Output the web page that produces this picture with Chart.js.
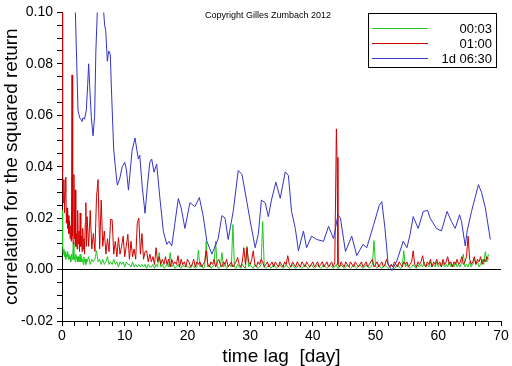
<!DOCTYPE html>
<html>
<head>
<meta charset="utf-8">
<script src="https://cdn.jsdelivr.net/npm/chart.js@4"></script>
<style>
  html, body { margin: 0; padding: 0; background: #fff; }
  #chart { display: block; }
</style>
</head>
<body>
<canvas id="chart" width="512" height="366"></canvas>
<script>
// series names as in the legend
const seriesNames = ['00:03', '01:00', '1d 06:30'];

// lag grid (days) shared by the 00:03 and 01:00 series
const lags = [
  0, 0.1, 0.2, 0.3, 0.4, 0.5, 0.6, 0.7, 0.8, 0.9,
  1, 1.1, 1.2, 1.3, 1.4, 1.5, 1.6, 1.7, 1.8, 1.9,
  2, 2.1, 2.2, 2.3, 2.4, 2.5, 2.6, 2.7, 2.8, 2.9,
  3, 3.1, 3.2, 3.3, 3.4, 3.5, 3.6, 3.7, 3.8, 3.9,
  4,
  4.25, 4.5, 4.75, 5, 5.25, 5.5, 5.75, 6, 6.25, 6.5,
  6.75, 7, 7.25, 7.5, 7.75, 8, 8.25, 8.5, 8.75, 9,
  9.25, 9.5, 9.75, 10, 10.25, 10.5, 10.75, 11, 11.25, 11.5,
  11.75, 12, 12.25, 12.5, 12.75, 13, 13.25, 13.5, 13.75, 14,
  14.25, 14.5, 14.75, 15, 15.25, 15.5, 15.75, 16, 16.25, 16.5,
  16.75, 17, 17.25, 17.5, 17.75, 18, 18.25, 18.5, 18.75, 19,
  19.25, 19.5, 19.75, 20,
  20.25, 20.5, 20.75, 21, 21.25, 21.5, 21.75, 22, 22.25, 22.5,
  22.75, 23, 23.25, 23.5, 23.75, 24, 24.25, 24.5, 24.75, 25,
  25.25, 25.5, 25.75, 26, 26.25, 26.5, 26.75, 27, 27.25, 27.5,
  27.75, 28, 28.25, 28.5, 28.75, 29, 29.25, 29.5, 29.75, 30,
  30.25, 30.5, 30.75, 31, 31.25, 31.5, 31.75, 32, 32.25, 32.5,
  32.75, 33, 33.25, 33.5, 33.75, 34, 34.25, 34.5, 34.75, 35,
  35.25, 35.5, 35.75, 36, 36.25, 36.5, 36.75, 37, 37.25, 37.5,
  37.75, 38, 38.25, 38.5, 38.75, 39, 39.25, 39.5, 39.75, 40,
  40.25, 40.5, 40.75, 41, 41.25, 41.5, 41.75, 42, 42.25, 42.5,
  42.75, 43, 43.25, 43.5, 43.75, 43.85, 44, 44.25, 44.5, 44.75,
  45, 45.25, 45.5, 45.75, 46, 46.25, 46.5, 46.75, 47, 47.25,
  47.5, 47.75, 48, 48.25, 48.5, 48.75, 49, 49.25, 49.5, 49.75,
  50, 50.25, 50.5, 50.75, 51, 51.25, 51.5, 51.75, 52, 52.25,
  52.5, 52.75, 53, 53.25, 53.5, 53.75, 54, 54.25, 54.5, 54.75,
  55, 55.25, 55.5, 55.75, 56, 56.25, 56.5, 56.75, 57, 57.25,
  57.5, 57.75, 58, 58.25, 58.5, 58.75, 59, 59.25, 59.5, 59.75,
  60, 60.25, 60.5, 60.75, 61, 61.25, 61.5, 61.75, 62, 62.25,
  62.5, 62.75, 63, 63.25, 63.5, 63.75, 64, 64.25, 64.5, 64.75,
  65, 65.25, 65.5, 65.75, 66, 66.25, 66.5, 66.75, 67, 67.25,
  67.5, 67.75, 68
];

// 00:03 series
const green0003 = [
  0.023, 0.009, 0.006, 0.008, 0.005, 0.007, 0.004, 0.006, 0.005, 0.007,
  0.004, 0.006, 0.004, 0.005, 0.003, 0.006, 0.004, 0.005, 0.0104, 0.004,
  0.005, 0.003, 0.006, 0.004, 0.005, 0.003, 0.005, 0.003, 0.004, 0.006,
  0.003, 0.005, 0.003, 0.004, 0.002, 0.005, 0.003, 0.004, 0.002, 0.004,
  0.003,
  0.005, 0.002, 0.004, 0.003, 0.004, 0.0073, 0.003, 0.004, 0.002, 0.004,
  0.002, 0.003, 0.005, 0.002, 0.003, 0.002, 0.004, 0.002, 0.003, 0.001,
  0.003, 0.002, 0.003, 0.001, 0.003, 0.002, 0.002, 0.001, 0.003, 0.001,
  0.002, 0.001, 0.002, 0.001, 0.002, 0.001, 0.002, 0.0005, 0.002, 0.001,
  0.001, 0.002, 0.0005, 0.002, 0.001, 0.0066, 0.001, 0.002, 0.0005, 0.001,
  0.002, 0.001, 0.0066, 0.001, 0.002, 0.0005, 0.001, 0.002, 0.001, 0.0005,
  0.002, 0.001, 0.0015, 0.001,
  0.001, 0.0005, 0.002, 0.001, 0.0005, 0.001, 0.0076, 0.001, 0.002, 0.0005,
  0.001, 0.011, 0.001, 0.002, 0.0005, 0.001, 0.002, 0.011, 0.001, 0.0005,
  0.001, 0.0066, 0.001, 0.002, 0.0005, 0.001, 0.002, 0.001, 0.0175, 0.001,
  0.0005, 0.002, 0.001, 0.0005, 0.002, 0.001, 0.0005, 0.009, 0.001, 0.002,
  0.001, 0.0005, 0.002, 0.001, 0.0005, 0.001, 0.002, 0.0187, 0.001, 0.0005,
  0.001, 0.002, 0.0005, 0.001, 0.002, 0.001, 0.0005, 0.001, 0.002, 0.001,
  0.0005, 0.001, 0.002, 0.001, 0.0005, 0.001, 0.002, 0.001, 0.0005, 0.001,
  0.002, 0.001, 0.0005, 0.001, 0.002, 0.001, 0.0005, 0.001, 0.002, 0.001,
  0.0005, 0.001, 0.002, 0.001, 0.0005, 0.001, 0.002, 0.001, 0.0005, 0.001,
  0.002, 0.001, 0.0005, 0.001, 0.002, 0.001, 0.0005, 0.001, 0.002, 0.001,
  0.0005, 0.001, 0.002, 0.001, 0.0005, 0.001, 0.002, 0.001, 0.0005, 0.001,
  0.002, 0.001, 0.0005, 0.001, 0.002, 0.001, 0.0005, 0.001, 0.002, 0.0113,
  0.001, 0.0005, 0.002, 0.001, 0.0005, 0.001, 0.002, 0.001, 0.0005, 0.001,
  0.002, 0.001, 0.0005, 0.001, 0.002, 0.001, 0.0005, 0.001, 0.0073, 0.001,
  0.002, 0.001, 0.0005, 0.001, 0.002, 0.001, 0.0005, 0.002, 0.001, 0.002,
  0.001, 0.003, 0.001, 0.002, 0.001, 0.003, 0.001, 0.002, 0.001, 0.003,
  0.001, 0.002, 0.001, 0.003, 0.001, 0.002, 0.001, 0.003, 0.001, 0.002,
  0.001, 0.003, 0.001, 0.002, 0.001, 0.003, 0.006, 0.001, 0.002, 0.001,
  0.003, 0.001, 0.002, 0.004, 0.002, 0.003, 0.001, 0.002, 0.004, 0.002,
  0.0069, 0.003, 0.006
];

// 01:00 series
const red0100 = [
  0.12, 0.038, 0.026, 0.035, 0.022, 0.03, 0.036, 0.018, 0.024, 0.016,
  0.021, 0.014, 0.019, 0.012, 0.017, 0.011, 0.0757, 0.013, 0.01, 0.037,
  0.012, 0.031, 0.009, 0.014, 0.008, 0.023, 0.01, 0.015, 0.007, 0.022,
  0.009, 0.013, 0.007, 0.016, 0.008, 0.012, 0.006, 0.018, 0.026, 0.009,
  0.0206,
  0.009, 0.023, 0.008, 0.014, 0.007, 0.028, 0.035, 0.008, 0.027, 0.009,
  0.015, 0.006, 0.012, 0.007, 0.0195, 0.0194, 0.006, 0.011, 0.005, 0.0124,
  0.006, 0.009, 0.013, 0.005, 0.009, 0.0137, 0.004, 0.011, 0.005, 0.008,
  0.004, 0.018, 0.02, 0.006, 0.014, 0.004, 0.007, 0.0073, 0.003, 0.006,
  0.003, 0.005, 0.002, 0.0085, 0.003, 0.005, 0.002, 0.004, 0.002, 0.005,
  0.002, 0.004, 0.001, 0.004, 0.002, 0.003, 0.002, 0.0054, 0.001, 0.004,
  0.002, 0.003, 0.001, 0.004,
  0.003, 0.001, 0.002, 0.004, 0.001, 0.003, 0.002, 0.003, 0.001, 0.002,
  0.003, 0.0073, 0.002, 0.001, 0.003, 0.002, 0.004, 0.001, 0.003, 0.004,
  0.002, 0.001, 0.003, 0.002, 0.004, 0.001, 0.002, 0.003, 0.001, 0.002,
  0.003, 0.0047, 0.002, 0.001, 0.003, 0.0085, 0.002, 0.0085, 0.003, 0.002,
  0.004, 0.0073, 0.002, 0.001, 0.003, 0.002, 0.004, 0.003, 0.001, 0.002,
  0.003, 0.001, 0.002, 0.003, 0.001, 0.003, 0.002, 0.001, 0.003, 0.002,
  0.001, 0.003, 0.002, 0.0054, 0.002, 0.001, 0.003, 0.002, 0.001, 0.003,
  0.002, 0.001, 0.003, 0.002, 0.001, 0.003, 0.002, 0.001, 0.002, 0.003,
  0.001, 0.002, 0.003, 0.001, 0.002, 0.003, 0.001, 0.002, 0.003, 0.001,
  0.002, 0.003, 0.001, 0.003, 0.0547, 0.0436, 0.002, 0.001, 0.003, 0.002,
  0.001, 0.003, 0.002, 0.001, 0.003, 0.002, 0.001, 0.003, 0.002, 0.001,
  0.002, 0.003, 0.001, 0.002, 0.003, 0.001, 0.002, 0.003, 0.004, 0.001,
  0.002, 0.003, 0.001, 0.002, 0.003, 0.001, 0.002, 0.004, 0.002, 0.001,
  0.002, 0.001, 0.003, 0.002, 0.001, 0.003, 0.002, 0.001, 0.003, 0.002,
  0.003, 0.001, 0.002, 0.003, 0.0073, 0.002, 0.001, 0.003, 0.002, 0.003,
  0.0054, 0.002, 0.001, 0.003, 0.002, 0.004, 0.001, 0.003, 0.002, 0.004,
  0.002, 0.003, 0.001, 0.004, 0.002, 0.003, 0.005, 0.002, 0.003, 0.001,
  0.003, 0.002, 0.004, 0.002, 0.003, 0.005, 0.002, 0.003, 0.005, 0.013,
  0.004, 0.002, 0.003, 0.005, 0.002, 0.004, 0.003, 0.005, 0.002, 0.004,
  0.003, 0.005, 0.004
];

// 1d 06:30 series, own lags
const blueLags = [
  2.1, 2.55, 2.82, 3.0, 3.19, 3.35, 3.6, 3.88, 4.1, 4.25,
  4.4, 4.68, 4.95, 5.2, 5.4, 5.63, 6.0, 6.4, 6.65, 6.8,
  6.97, 7.23, 7.45, 7.7, 7.87, 8.24, 8.5, 8.82, 9.2, 9.6,
  10.0, 10.26, 10.6, 11.16, 11.64, 12.17, 12.4, 12.8, 13.24, 13.6,
  14.0, 14.3, 14.67, 15.1, 15.6, 16.16, 16.7, 17.07, 17.5, 18.0,
  18.55, 19.0, 19.6, 20.4, 21.2, 21.9, 22.5, 23.1, 23.9, 24.9,
  25.5, 26.0, 26.5, 27.3, 28.1, 28.7, 29.5, 30.0, 30.8, 31.3,
  31.8, 32.4, 32.9, 33.4, 34.1, 34.8, 35.6, 36.1, 36.6, 37.2,
  37.7, 38.5, 39.0, 39.8, 40.6, 41.7, 42.5, 43.3, 44.0, 44.4,
  45.2, 46.2, 47.0, 48.0, 48.6, 49.7, 50.6, 51.0, 51.5, 52.0,
  52.6, 53.4, 54.4, 55.0, 55.5, 56.0, 56.8, 57.6, 58.3, 58.7,
  59.7, 60.5, 61.4, 62.1, 62.7, 63.4, 63.7, 64.3, 64.6, 65.3,
  66.4, 66.9, 67.5, 68.3
];
const blue1d = [
  0.103, 0.062, 0.059, 0.0585, 0.0576, 0.059, 0.0585, 0.062, 0.072, 0.08,
  0.072, 0.059, 0.052, 0.0596, 0.085, 0.1, 0.1015, 0.1005, 0.1, 0.095,
  0.093, 0.081, 0.085, 0.0837, 0.071, 0.0468, 0.04, 0.0328, 0.0353, 0.04,
  0.0417, 0.039, 0.0309, 0.046, 0.0512, 0.043, 0.0444, 0.032, 0.0219, 0.032,
  0.0417, 0.043, 0.0379, 0.041, 0.028, 0.0149, 0.0098, 0.011, 0.0092, 0.018,
  0.0276, 0.024, 0.016, 0.026, 0.0245, 0.028, 0.021, 0.011, 0.006, 0.012,
  0.021, 0.02, 0.0117, 0.0226, 0.0385, 0.037, 0.026, 0.019, 0.0085, 0.0137,
  0.027, 0.026, 0.0206, 0.027, 0.034, 0.0277, 0.038, 0.0366, 0.0226, 0.016,
  0.0073, 0.015, 0.0085, 0.013, 0.0117, 0.011, 0.0168, 0.012, 0.0213, 0.02,
  0.007, 0.013, 0.0054, 0.0098, 0.0085, 0.0175, 0.025, 0.0264, 0.016, 0.0022,
  -0.0004, 0.0034, 0.011, 0.0085, 0.0136, 0.0206, 0.016, 0.0226, 0.023, 0.02,
  0.016, 0.015, 0.0226, 0.0187, 0.016, 0.0213, 0.0187, 0.0092, 0.015, 0.0226,
  0.033, 0.03, 0.024, 0.0117
];

const greenCol = '#1ec81e';
const redCol = '#d00000';
const blueCol = '#3434c8';
const fontFam = '"Liberation Sans", Arial, sans-serif';

const toPoints = (xs, ys) => xs.map((x, i) => ({ x: x, y: ys[i] }));
const isMultiple = (v, step) => Math.abs(Math.round(v / step) * step - v) < 1e-9;

// copyright line and the boxed legend, drawn like the original
const overlay = {
  id: 'overlay',
  afterDraw(chart) {
    const c = chart.ctx;
    c.save();
    c.fillStyle = '#000';
    c.font = '9px ' + fontFam;
    c.textAlign = 'left';
    c.textBaseline = 'middle';
    c.fillText('Copyright Gilles Zumbach 2012', 205, 16);

    c.fillStyle = '#fff';
    c.fillRect(368.5, 13.5, 128, 54);
    c.strokeStyle = '#000';
    c.lineWidth = 1;
    c.strokeRect(368.5, 13.5, 128, 54);

    const items = chart.data.datasets.slice().reverse();
    c.font = '13px ' + fontFam;
    c.textAlign = 'right';
    items.forEach((ds, i) => {
      const y = 28.5 + i * 15;
      c.strokeStyle = ds.borderColor;
      c.beginPath();
      c.moveTo(372, y);
      c.lineTo(428, y);
      c.stroke();
      c.fillStyle = '#000';
      c.fillText(ds.label, 492, y + 1);
    });
    c.restore();
  }
};

const ctx = document.getElementById('chart').getContext('2d');
new Chart(ctx, {
  type: 'line',
  data: {
    datasets: [
      { label: seriesNames[2], data: toPoints(blueLags, blue1d), borderColor: blueCol },
      { label: seriesNames[1], data: toPoints(lags, red0100), borderColor: redCol },
      { label: seriesNames[0], data: toPoints(lags, green0003), borderColor: greenCol }
    ]
  },
  options: {
    responsive: false,
    animation: false,
    devicePixelRatio: 1,
    layout: { padding: { left: 0, right: 11, top: 7, bottom: 0 } },
    elements: {
      point: { radius: 0 },
      line: { borderWidth: 1, tension: 0, fill: false }
    },
    plugins: { legend: { display: false }, tooltip: { enabled: false } },
    scales: {
      x: {
        type: 'linear',
        min: 0,
        max: 70,
        afterFit: s => { s.height = 45; },
        border: { display: true, color: '#000', width: 1 },
        grid: { drawOnChartArea: false, tickColor: '#000', tickLength: 5 },
        ticks: {
          stepSize: 2,
          autoSkip: false,
          maxRotation: 0,
          padding: 2,
          color: '#000',
          font: { family: fontFam, size: 14 },
          callback: v => isMultiple(v, 10) ? String(Math.round(v)) : ''
        },
        title: {
          display: true,
          text: 'time lag  [day]',
          color: '#000',
          font: { family: fontFam, size: 19, lineHeight: 1 },
          padding: { top: 0, bottom: 0 }
        }
      },
      y: {
        type: 'linear',
        min: -0.02,
        max: 0.1,
        afterFit: s => { s.width = 62; },
        border: { display: true, color: '#000', width: 1 },
        grid: {
          drawOnChartArea: true,
          color: c => (c.tick && Math.abs(c.tick.value) < 1e-9) ? '#000' : 'rgba(0,0,0,0)',
          tickColor: '#000',
          tickLength: 5
        },
        ticks: {
          stepSize: 0.005,
          maxTicksLimit: 100,
          autoSkip: false,
          padding: 4,
          color: '#000',
          font: { family: fontFam, size: 14 },
          callback: v => isMultiple(v, 0.02) ? (Math.abs(v) < 1e-9 ? '0.00' : v.toFixed(2)) : ''
        },
        title: {
          display: true,
          text: 'correlation for the squared return',
          color: '#000',
          font: { family: fontFam, size: 19, lineHeight: 1 },
          padding: { top: 2, bottom: 0 }
        }
      }
    }
  },
  plugins: [overlay]
});
</script>
</body>
</html>
